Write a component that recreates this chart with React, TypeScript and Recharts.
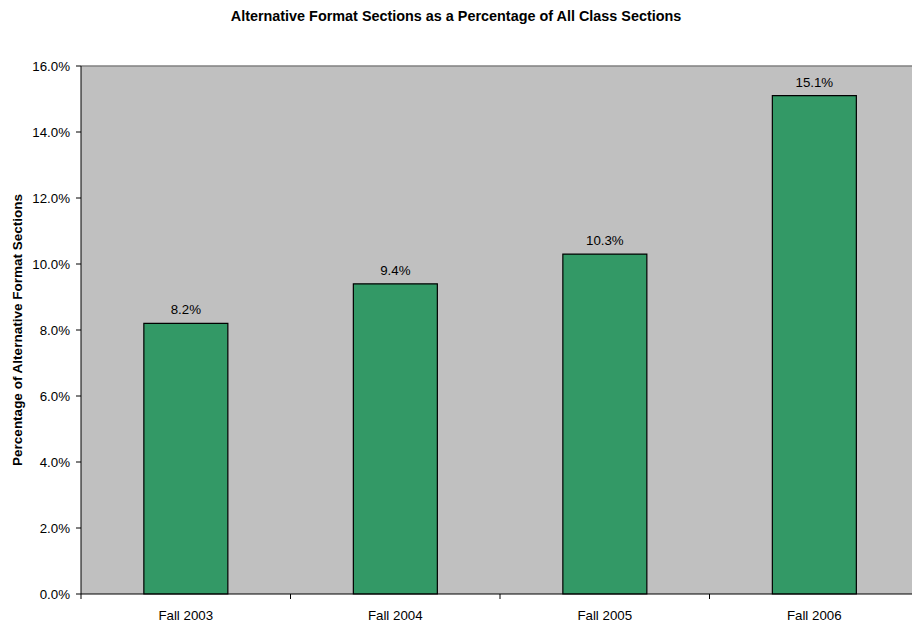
import React from 'react';
import { BarChart, Bar, XAxis, YAxis, CartesianGrid, LabelList, ReferenceLine } from 'recharts';

const terms = ['Fall 2003', 'Fall 2004', 'Fall 2005', 'Fall 2006'];
const percentages = [8.2, 9.4, 10.3, 15.1];
const yTicks = [0, 2, 4, 6, 8, 10, 12, 14, 16];

const chartData = terms.map((term, i) => ({ term, value: percentages[i] }));

const FONT = '"Liberation Sans", Arial, sans-serif';

// category ticks: label at centre, tick marks on the category boundaries
function BoundaryTick(props: any) {
  const { x, y, payload, index, width, visibleTicksCount } = props;
  const band = width / visibleTicksCount;
  const lineTop = y - 12 - 5;
  return (
    <g>
      {index === 0 && (
        <line x1={x - band / 2} x2={x - band / 2} y1={lineTop} y2={lineTop + 5} stroke="#000" />
      )}
      <line x1={x + band / 2} x2={x + band / 2} y1={lineTop} y2={lineTop + 5} stroke="#000" />
      <text x={x} y={y} dy="0.71em" textAnchor="middle" fill="#000" fontSize={13.3} fontFamily={FONT}>
        {payload.value}
      </text>
    </g>
  );
}

export default function App() {
  return (
    <div style={{ position: 'fixed', left: 0, top: 0, width: 912, height: 625, overflow: 'hidden', background: '#fff' }}>
      <div
        style={{
          position: 'absolute',
          left: 0,
          top: 8,
          width: 912,
          textAlign: 'center',
          fontFamily: FONT,
          fontWeight: 'bold',
          fontSize: 14.4,
          color: '#000',
        }}
      >
        Alternative Format Sections as a Percentage of All Class Sections
      </div>
      <BarChart
        width={930}
        height={625}
        data={chartData}
        margin={{ top: 66, right: 11, bottom: 6, left: 0 }}
        barCategoryGap="30%"
      >
        <CartesianGrid fill="#C0C0C0" horizontal={false} vertical={false} />
        <ReferenceLine y={16} stroke="#808080" strokeWidth={1.5} />
        <XAxis
          dataKey="term"
          height={25}
          stroke="#000"
          tickLine={false}
          tickSize={5}
          tickMargin={12}
          tick={<BoundaryTick />}
          interval={0}
        />
        <YAxis
          width={81}
          domain={[0, 16]}
          ticks={yTicks}
          stroke="#000"
          tickSize={5}
          tickMargin={6}
          tickFormatter={(v: number) => v.toFixed(1) + '%'}
          tick={{ fill: '#000', fontSize: 13.3, fontFamily: FONT }}
          label={{
            value: 'Percentage of Alternative Format Sections',
            angle: -90,
            position: 'insideLeft',
            offset: 17,
            style: { textAnchor: 'middle', fontWeight: 'bold', fontSize: 13.5, fontFamily: FONT, fill: '#000' },
          }}
        />
        <Bar dataKey="value" fill="#339966" stroke="#000" strokeWidth={1.2} isAnimationActive={false}>
          <LabelList
            dataKey="value"
            position="top"
            offset={9}
            formatter={(v: any) => Number(v).toFixed(1) + '%'}
            style={{ fill: '#000', fontSize: 13.3, fontFamily: FONT }}
          />
        </Bar>
      </BarChart>
    </div>
  );
}
